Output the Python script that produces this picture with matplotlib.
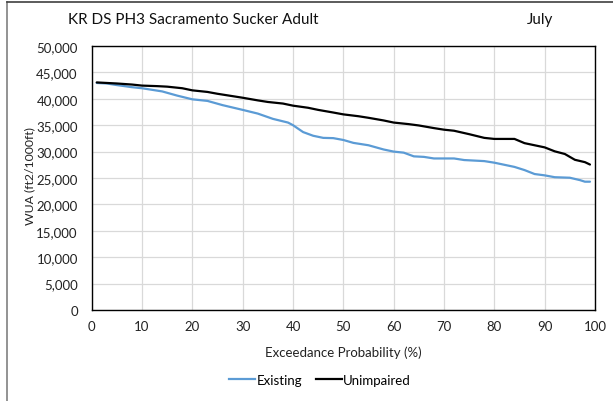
import matplotlib
matplotlib.use("Agg")
import matplotlib.pyplot as plt
from matplotlib.lines import Line2D

plt.rcParams['font.family'] = ['Lato', 'DejaVu Sans']

title = "KR DS PH3 Sacramento Sucker Adult"
month = "July"
x_label = "Exceedance Probability (%)"
y_label = "WUA (ft2/1000ft)"
series_names = ["Existing", "Unimpaired"]

existing_p = [1, 3, 5, 8, 10, 12, 14, 17, 20, 23, 26, 30, 33, 36, 39, 40, 42, 44, 46, 48,
              50, 52, 55, 58, 60, 62, 64, 66, 68, 72, 74, 78, 80, 84, 86, 88, 90, 92, 95, 97, 98, 99]
existing_v = [43000, 42900, 42600, 42200, 42000, 41700, 41400, 40600, 39900, 39600, 38800, 37900,
              37200, 36200, 35500, 35000, 33700, 33000, 32600, 32550, 32200, 31650, 31200, 30400,
              30000, 29800, 29100, 29000, 28700, 28700, 28400, 28200, 27900, 27100, 26500, 25750,
              25500, 25150, 25050, 24600, 24300, 24300]

unimp_p = [1, 3, 5, 8, 10, 13, 15, 18, 20, 23, 25, 28, 30, 33, 35, 38, 40, 43, 45, 48, 50, 53,
           55, 58, 60, 63, 65, 68, 70, 72, 75, 78, 80, 84, 86, 89, 90, 92, 94, 96, 98, 99]
unimp_v = [43100, 43000, 42900, 42700, 42500, 42400, 42300, 42000, 41600, 41300, 40950, 40500,
           40200, 39700, 39400, 39100, 38700, 38300, 37900, 37400, 37050, 36700, 36400, 35900,
           35500, 35200, 34950, 34450, 34150, 33950, 33300, 32600, 32400, 32400, 31600, 31000,
           30800, 30050, 29550, 28450, 28000, 27550]

x_ticks = list(range(0, 101, 10))
y_ticks = list(range(0, 50001, 5000))

fig = plt.figure(figsize=(6.13, 4.02), dpi=100)
W, H = 613, 402
ax_left, ax_right, ax_top, ax_bottom = 91.7, 595, 47, 311
ax = fig.add_axes([ax_left / W, 1 - ax_bottom / H, (ax_right - ax_left) / W, (ax_bottom - ax_top) / H])

ax.plot(existing_p, existing_v, color="#5B9BD5", lw=1.6, solid_capstyle="round")
ax.plot(unimp_p, unimp_v, color="black", lw=1.6, solid_capstyle="round")

ax.set_xlim(0, 100)
ax.set_ylim(0, 50000)
ax.set_xticks(x_ticks)
ax.set_yticks(y_ticks)
ax.set_xticklabels([str(t) for t in x_ticks], fontsize=9.5, color="#222222")
ax.set_yticklabels([f"{t:,}" for t in y_ticks], fontsize=9.5, color="#222222")
ax.tick_params(axis="x", length=0, pad=7)
ax.tick_params(axis="y", length=0, pad=10)
ax.grid(True, color="#D9D9D9", lw=0.9)
ax.set_axisbelow(True)
for s in ax.spines.values():
    s.set_color("black")
    s.set_linewidth(1.0)

ax.set_xlabel(x_label, fontsize=9.5, color="#222222", labelpad=10)
ax.set_ylabel(y_label, fontsize=8.8, color="#222222")
ax.yaxis.set_label_coords((35 - ax_left) / (ax_right - ax_left), (311 - 176) / (311 - 47))

fig.text(68 / W, 1 - 20 / H, title, fontsize=11, va="center", ha="left", color="#111111")
fig.text(527 / W, 1 - 20 / H, month, fontsize=11, va="center", ha="left", color="#111111")

handles = [Line2D([], [], color="#5B9BD5", lw=1.6), Line2D([], [], color="black", lw=1.6)]
fig.legend(handles, series_names, loc="center", bbox_to_anchor=(320 / W, 1 - 381 / H),
           ncol=2, frameon=False, fontsize=9.5, handlelength=2.0, handletextpad=0.1,
           columnspacing=1.0)

# outer chart border (left and top)
fig.add_artist(Line2D([6.5 / W, 6.5 / W], [0, 1 - 2.5 / H], transform=fig.transFigure,
                      color="#808080", lw=1.2))
fig.add_artist(Line2D([6.5 / W, 1], [1 - 2.5 / H, 1 - 2.5 / H], transform=fig.transFigure,
                      color="#404040", lw=1.2))

fig.savefig("out.png", dpi=100)
